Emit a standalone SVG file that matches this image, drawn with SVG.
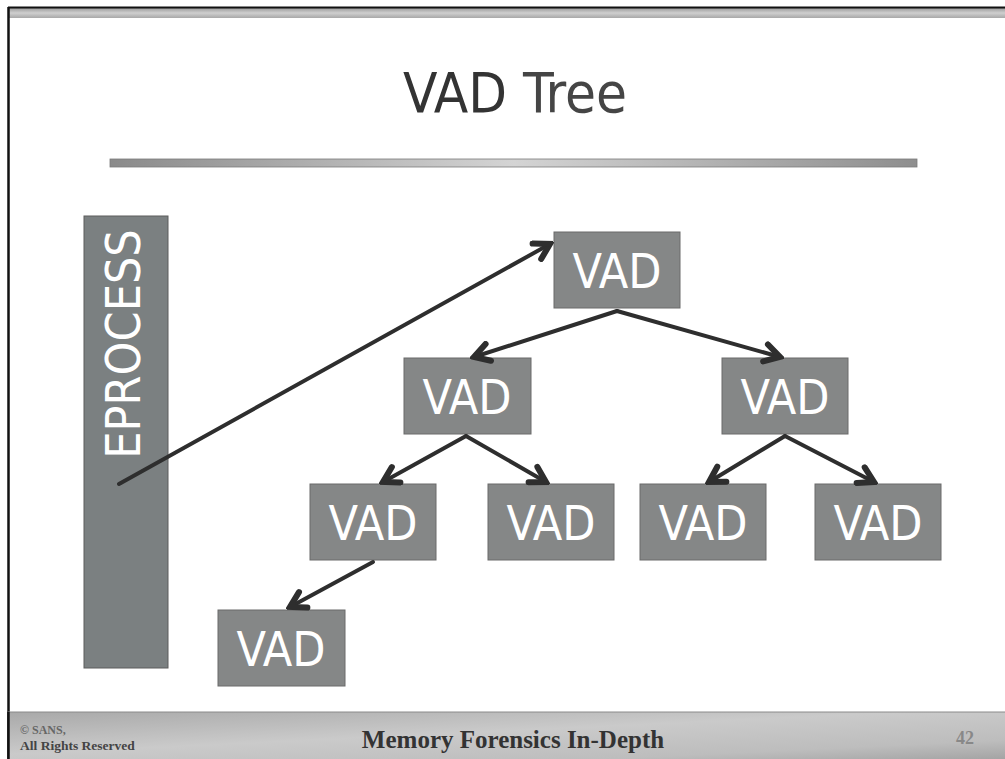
<svg xmlns="http://www.w3.org/2000/svg" width="1005" height="759" viewBox="0 0 1005 759">
  <defs>
    <linearGradient id="barGrad" x1="0" y1="0" x2="1" y2="0">
      <stop offset="0" stop-color="#8a8a8a"/>
      <stop offset="0.5" stop-color="#d4d4d4"/>
      <stop offset="1" stop-color="#8e8e8e"/>
    </linearGradient>
    <linearGradient id="topGrad" x1="0" y1="0" x2="0" y2="1">
      <stop offset="0" stop-color="#9a9a9a"/>
      <stop offset="0.5" stop-color="#cfcfcf"/>
      <stop offset="1" stop-color="#a8a8a8"/>
    </linearGradient>
    <linearGradient id="footGrad" x1="0" y1="0" x2="1" y2="1">
      <stop offset="0" stop-color="#a9a9a9"/>
      <stop offset="0.45" stop-color="#cacaca"/>
      <stop offset="0.8" stop-color="#bdbdbd"/>
      <stop offset="1" stop-color="#a4a4a4"/>
    </linearGradient>
    <marker id="arrow" viewBox="0 0 12 12" refX="10" refY="6" markerWidth="6" markerHeight="6" orient="auto" markerUnits="strokeWidth">
      <path d="M2.5,1.6 L10,6 L2.5,10.4" fill="none" stroke="#2e2e2e" stroke-width="3" stroke-linejoin="miter" stroke-linecap="round"/>
    </marker>
  </defs>
  <style>
    .box { fill: #858787; stroke: #6a6a6a; stroke-width: 1; }
    .proc { fill: #7b8081; stroke: #5c5c5c; stroke-width: 1; }
    .lbl { font-family: "DejaVu Sans Condensed", "DejaVu Sans", "Liberation Sans", sans-serif; font-size: 48px; fill: #ffffff; text-anchor: middle; }
    .edge { stroke: #2e2e2e; stroke-width: 4; fill: none; stroke-linecap: round; marker-end: url(#arrow); }
    .foot { font-family: "Liberation Serif", serif; font-weight: bold; }
  </style>

  <!-- page background and frame -->
  <rect x="0" y="0" width="1005" height="759" fill="#ffffff"/>
  <rect x="8" y="8" width="997" height="10" fill="url(#topGrad)"/>
  <line x1="8" y1="7.5" x2="1005" y2="7.5" stroke="#111" stroke-width="2"/>
  <line x1="8.5" y1="7" x2="8.5" y2="759" stroke="#111" stroke-width="2.5"/>

  <!-- title -->
  <text x="515" y="112" font-family="DejaVu Sans Condensed, DejaVu Sans, Liberation Sans, sans-serif" font-size="56" fill="#454545" text-anchor="middle"><tspan fill="#333">VAD</tspan> Tree</text>
  <rect x="110" y="159" width="807" height="8" fill="url(#barGrad)" stroke="#7a7a7a" stroke-width="0.8"/>

  <!-- nodes -->
  <g id="eprocess">
    <rect class="proc" x="84" y="216" width="84" height="452"/>
    <text class="lbl" transform="translate(140,344) rotate(-90)">EPROCESS</text>
  </g>
  <g id="vad-root">
    <rect class="box" x="554" y="232" width="126" height="76"/>
    <text class="lbl" x="617" y="288">VAD</text>
  </g>
  <g id="vad-l1a">
    <rect class="box" x="404" y="358" width="127" height="76"/>
    <text class="lbl" x="467" y="414">VAD</text>
  </g>
  <g id="vad-l1b">
    <rect class="box" x="722" y="358" width="126" height="76"/>
    <text class="lbl" x="785" y="414">VAD</text>
  </g>
  <g id="vad-l2a">
    <rect class="box" x="310" y="484" width="126" height="76"/>
    <text class="lbl" x="373" y="540">VAD</text>
  </g>
  <g id="vad-l2b">
    <rect class="box" x="488" y="484" width="126" height="76"/>
    <text class="lbl" x="551" y="540">VAD</text>
  </g>
  <g id="vad-l2c">
    <rect class="box" x="640" y="484" width="126" height="76"/>
    <text class="lbl" x="703" y="540">VAD</text>
  </g>
  <g id="vad-l2d">
    <rect class="box" x="815" y="484" width="126" height="76"/>
    <text class="lbl" x="878" y="540">VAD</text>
  </g>
  <g id="vad-l3a">
    <rect class="box" x="218" y="610" width="127" height="76"/>
    <text class="lbl" x="281" y="666">VAD</text>
  </g>

  <!-- connectors (drawn over the EPROCESS bar, where the first one starts) -->
  <g id="connectors">
    <line class="edge" x1="119" y1="484" x2="550" y2="244"/>
    <line class="edge" x1="617" y1="311" x2="474" y2="357"/>
    <line class="edge" x1="617" y1="311" x2="780" y2="357"/>
    <line class="edge" x1="466" y1="436" x2="383" y2="482"/>
    <line class="edge" x1="466" y1="436" x2="546" y2="482"/>
    <line class="edge" x1="785" y1="436" x2="709" y2="482"/>
    <line class="edge" x1="785" y1="436" x2="874" y2="482"/>
    <line class="edge" x1="373" y1="562" x2="290" y2="607"/>
  </g>

  <!-- footer -->
  <rect x="8" y="712" width="997" height="47" fill="url(#footGrad)"/>
  <line x1="8" y1="712" x2="1005" y2="712" stroke="#8a8a8a" stroke-width="1"/>
  <line x1="8.5" y1="712" x2="8.5" y2="759" stroke="#111" stroke-width="2.5"/>
  <text class="foot" x="20" y="734" font-size="12" fill="#666">© SANS,</text>
  <text class="foot" x="20" y="750" font-size="13.5" fill="#444">All Rights Reserved</text>
  <text class="foot" x="513" y="748" font-size="25" fill="#333" text-anchor="middle">Memory Forensics In-Depth</text>
  <text class="foot" x="965" y="744" font-size="18" fill="#888" text-anchor="middle">42</text>
</svg>
